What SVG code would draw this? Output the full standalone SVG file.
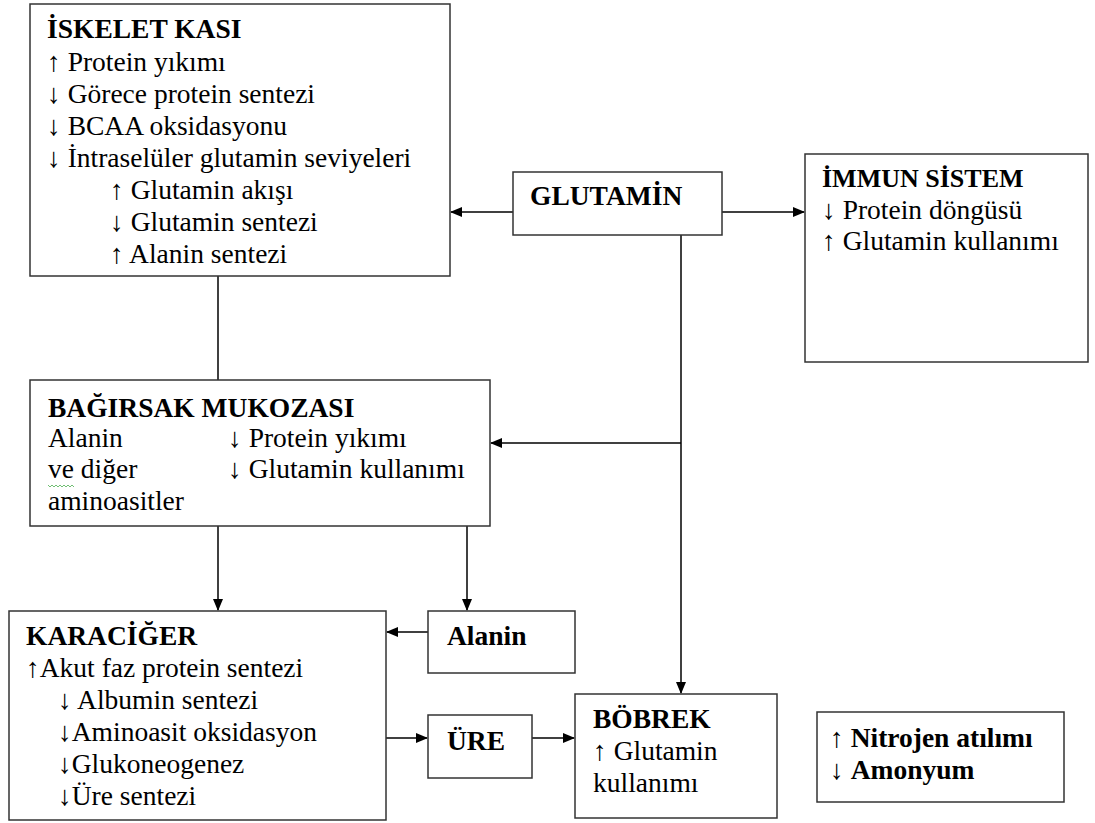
<svg xmlns="http://www.w3.org/2000/svg" width="1095" height="823" viewBox="0 0 1095 823">
<style>
.box{fill:#fff;stroke:#333;stroke-width:1.5}
text{font-family:"Liberation Serif","Times New Roman",serif;font-size:27.5px;fill:#000}
.b{font-weight:bold}
.con{stroke:#000;stroke-width:1.5;fill:none}
</style>
<defs>
<marker id="ah" markerWidth="12" markerHeight="10" refX="11" refY="5" orient="auto" markerUnits="userSpaceOnUse">
<path d="M0,0 L12,5 L0,10 z" fill="#000"/>
</marker>
</defs>
<rect width="1095" height="823" fill="#fff"/>
<g id="connectors">
<line class="con" x1="513" y1="212" x2="451" y2="212" marker-end="url(#ah)"/>
<line class="con" x1="722" y1="212" x2="804" y2="212" marker-end="url(#ah)"/>
<line class="con" x1="681" y1="235" x2="681" y2="693" marker-end="url(#ah)"/>
<line class="con" x1="681" y1="443" x2="491" y2="443" marker-end="url(#ah)"/>
<line class="con" x1="218" y1="276" x2="218" y2="380"/>
<line class="con" x1="218" y1="526" x2="218" y2="610" marker-end="url(#ah)"/>
<line class="con" x1="467" y1="526" x2="467" y2="610" marker-end="url(#ah)"/>
<line class="con" x1="428" y1="632" x2="387" y2="632" marker-end="url(#ah)"/>
<line class="con" x1="386" y1="738" x2="427" y2="738" marker-end="url(#ah)"/>
<line class="con" x1="532" y1="738" x2="574" y2="738" marker-end="url(#ah)"/>
</g>
<g id="iskelet">
<rect class="box" x="30" y="4" width="420" height="272"/>
<text class="b" x="47" y="38">İSKELET KASI</text>
<text x="47" y="71">↑ Protein yıkımı</text>
<text x="47" y="103">↓ Görece protein sentezi</text>
<text x="47" y="135">↓ BCAA oksidasyonu</text>
<text x="47" y="167">↓ İntraselüler glutamin seviyeleri</text>
<text x="110" y="199">↑ Glutamin akışı</text>
<text x="110" y="231">↓ Glutamin sentezi</text>
<text x="110" y="263">↑ Alanin sentezi</text>
</g>
<g id="glutamin">
<rect class="box" x="513" y="172" width="209" height="63"/>
<text class="b" x="530" y="205">GLUTAMİN</text>
</g>
<g id="immun">
<rect class="box" x="805" y="154" width="283" height="208"/>
<text class="b" x="822" y="187" style="font-size:26px">İMMUN SİSTEM</text>
<text x="822" y="219">↓ Protein döngüsü</text>
<text x="822" y="250">↑ Glutamin kullanımı</text>
</g>
<g id="bagirsak">
<rect class="box" x="30" y="380" width="460" height="146"/>
<text class="b" x="48" y="417">BAĞIRSAK MUKOZASI</text>
<text x="48" y="447">Alanin</text>
<text x="48" y="478">ve diğer</text>
<path d="M48,485 l2,2 l2,-2 l2,2 l2,-2 l2,2 l2,-2 l2,2 l2,-2 l2,2 l2,-2 l2,2 l2,-2 l2,2" fill="none" stroke="#4caf50" stroke-width="0.8"/>
<text x="48" y="510">aminoasitler</text>
<text x="228" y="447">↓ Protein yıkımı</text>
<text x="228" y="478">↓ Glutamin kullanımı</text>
</g>
<g id="karaciger">
<rect class="box" x="9" y="611" width="377" height="209"/>
<text class="b" x="26" y="645">KARACİĞER</text>
<text x="26" y="677">↑Akut faz protein sentezi</text>
<text x="58" y="709">↓ Albumin sentezi</text>
<text x="58" y="741">↓Aminoasit oksidasyon</text>
<text x="58" y="773">↓Glukoneogenez</text>
<text x="58" y="805">↓Üre sentezi</text>
</g>
<g id="alanin">
<rect class="box" x="428" y="611" width="147" height="62"/>
<text class="b" x="447" y="645">Alanin</text>
</g>
<g id="ure">
<rect class="box" x="428" y="715" width="104" height="63"/>
<text class="b" x="447" y="750">ÜRE</text>
</g>
<g id="bobrek">
<rect class="box" x="575" y="694" width="202" height="124"/>
<text class="b" x="593" y="728">BÖBREK</text>
<text x="593" y="760">↑ Glutamin</text>
<text x="593" y="792">kullanımı</text>
</g>
<g id="nitrojen">
<rect class="box" x="817" y="712" width="247" height="90"/>
<text x="830" y="747">↑ <tspan class="b">Nitrojen atılımı</tspan></text>
<text x="830" y="779">↓ <tspan class="b">Amonyum</tspan></text>
</g>
</svg>
